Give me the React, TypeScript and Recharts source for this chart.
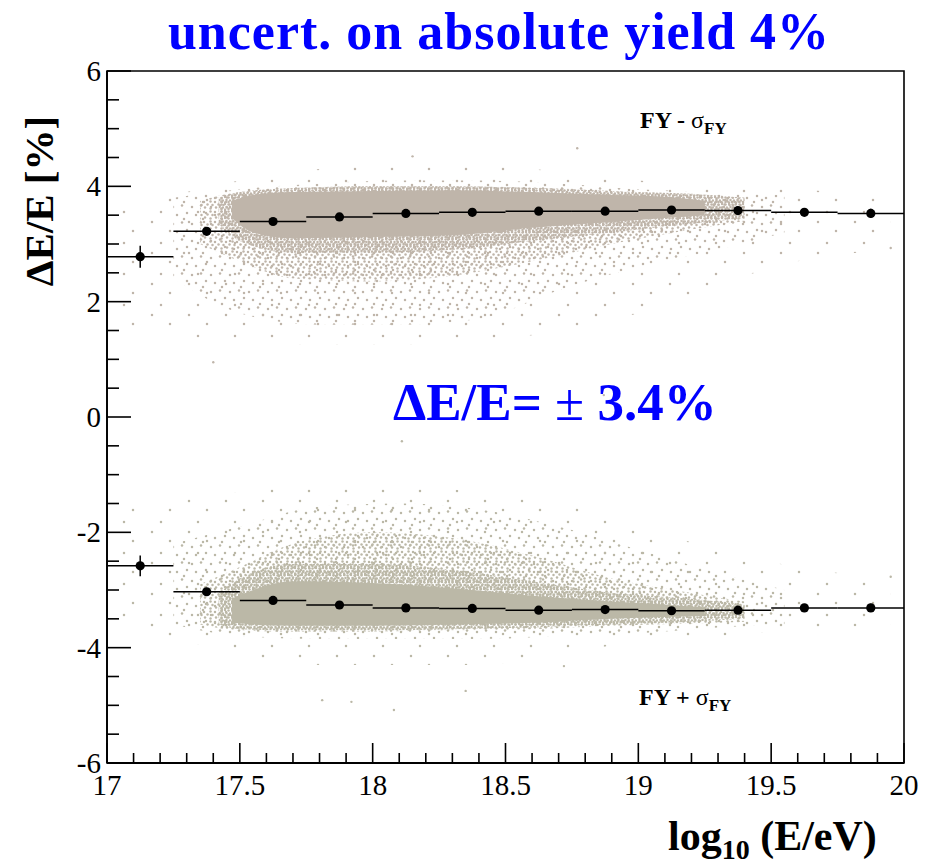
import React from "react";
import {
  ComposedChart,
  Area,
  Scatter,
  ErrorBar,
  XAxis,
  YAxis,
  ReferenceArea,
} from "recharts";

const SERIF = "'Liberation Serif', 'DejaVu Serif', serif";
const UP_COLOR = "#bfb5aa";
const LO_COLOR = "#bbb8a7";

// bins in log10(E/eV), width 0.25
const binCentres = [
  17.125, 17.375, 17.625, 17.875, 18.125, 18.375, 18.625, 18.875, 19.125,
  19.375, 19.625, 19.875,
];
const binHalfWidth = 0.125;

// FY - sigma_FY profile (upper)
const meanMinus = [2.78, 3.22, 3.39, 3.47, 3.53, 3.55, 3.57, 3.57, 3.59, 3.58, 3.55, 3.53];
const errMinus = [0.19, 0.05, 0.03, 0.02, 0.02, 0.02, 0.02, 0.02, 0.03, 0.04, 0.05, 0.08];

// FY + sigma_FY profile (lower)
const meanPlus = [-2.58, -3.03, -3.18, -3.26, -3.31, -3.32, -3.35, -3.34, -3.36, -3.35, -3.31, -3.31];
const errPlus = [0.18, 0.05, 0.03, 0.02, 0.02, 0.02, 0.02, 0.02, 0.03, 0.04, 0.05, 0.07];

// scatter cloud envelopes: [log10E, low, high]
const upSparse = [
  [17.05, 1.6, 3.6], [17.3, 1.4, 3.9], [17.5, 1.3, 4.1], [17.8, 1.25, 4.3],
  [18.1, 1.25, 4.4], [18.4, 1.3, 4.4], [18.7, 1.5, 4.25], [19.0, 1.8, 4.1],
  [19.3, 2.3, 4.0], [19.6, 2.7, 3.95], [19.95, 2.9, 3.8],
];
const upLight = [
  [17.25, 2.4, 3.8], [17.5, 1.8, 3.95], [17.8, 1.6, 4.05], [18.1, 1.6, 4.1],
  [18.4, 1.7, 4.1], [18.7, 2.2, 4.05], [19.0, 2.6, 3.95], [19.3, 2.9, 3.9],
  [19.55, 3.2, 3.85],
];
const upMid = [
  [17.35, 3.0, 3.75], [17.5, 2.7, 3.9], [17.7, 2.4, 3.95], [18.0, 2.35, 4.0],
  [18.3, 2.45, 4.0], [18.6, 2.7, 3.98], [18.9, 3.0, 3.92], [19.2, 3.25, 3.85],
  [19.4, 3.4, 3.8],
];
const upDense = [
  [17.42, 3.35, 3.8], [17.5, 3.05, 3.9], [17.7, 2.85, 3.97], [18.0, 2.85, 4.0],
  [18.3, 2.9, 4.0], [18.6, 3.05, 3.97], [18.9, 3.2, 3.92], [19.2, 3.35, 3.87],
  [19.4, 3.45, 3.8],
];
const upCore = [
  [17.47, 3.45, 3.75], [17.55, 3.2, 3.85], [17.7, 3.1, 3.9], [18.0, 3.12, 3.92],
  [18.3, 3.15, 3.93], [18.6, 3.28, 3.9], [18.9, 3.38, 3.85], [19.1, 3.45, 3.82],
  [19.25, 3.5, 3.75],
];

const loSparse = [
  [17.05, -3.6, -1.6], [17.3, -3.9, -1.4], [17.5, -4.1, -1.3], [17.8, -4.3, -1.15],
  [18.1, -4.3, -1.2], [18.4, -4.3, -1.3], [18.7, -4.1, -1.5], [19.0, -3.9, -1.9],
  [19.3, -3.8, -2.3], [19.6, -3.7, -2.6], [19.95, -3.6, -2.8],
];
const loLight = [
  [17.25, -3.6, -2.2], [17.5, -3.8, -1.9], [17.8, -3.85, -1.55], [18.1, -3.85, -1.5],
  [18.4, -3.85, -1.6], [18.7, -3.8, -1.9], [19.0, -3.75, -2.3], [19.3, -3.65, -2.7],
  [19.55, -3.6, -3.0],
];
const loMid = [
  [17.35, -3.6, -2.9], [17.5, -3.7, -2.6], [17.7, -3.72, -2.2], [18.0, -3.72, -2.0],
  [18.3, -3.7, -2.1], [18.6, -3.68, -2.4], [18.9, -3.62, -2.8], [19.2, -3.58, -3.05],
  [19.4, -3.55, -3.2],
];
const loDense = [
  [17.42, -3.6, -3.05], [17.5, -3.68, -2.8], [17.7, -3.7, -2.55], [18.0, -3.7, -2.55],
  [18.3, -3.68, -2.65], [18.6, -3.65, -2.85], [18.9, -3.6, -3.05], [19.2, -3.55, -3.15],
  [19.4, -3.5, -3.25],
];
const loCore = [
  [17.47, -3.55, -3.15], [17.55, -3.6, -3.0], [17.7, -3.62, -2.85], [18.0, -3.62, -2.88],
  [18.3, -3.6, -2.97], [18.6, -3.57, -3.1], [18.9, -3.5, -3.2], [19.1, -3.47, -3.25],
  [19.25, -3.45, -3.3],
];

// isolated outlier dots
const upOutliers = [
  [18.15, 4.52], [18.77, 4.66], [19.95, 2.93], [18.87, 0.38], [17.4, 0.95],
];
const loOutliers = [
  [18.08, -5.08], [17.81, -4.91], [17.92, -4.94], [18.72, -4.32], [19.95, -2.77],
  [18.11, -0.42], [18.35, -4.75],
];

const Y_MAJOR = [-6, -4, -2, 0, 2, 4, 6];
const X_MAJOR = [17, 17.5, 18, 18.5, 19, 19.5, 20];
const Y_TICKS = Array.from({ length: 25 }, (_, i) => -6 + i * 0.5);
const X_TICKS = Array.from({ length: 31 }, (_, i) => Math.round((17 + i * 0.1) * 10) / 10);

const toBand = (rows: number[][]) => rows.map(([x, lo, hi]) => ({ x, r: [lo, hi] }));
const toPts = (rows: number[][]) => rows.map(([x, y]) => ({ x, y }));
const profile = (means: number[], errs: number[]) =>
  binCentres.map((x, i) => ({ x, y: means[i], xerr: binHalfWidth, yerr: errs[i] }));

const upperProfile = profile(meanMinus, errMinus);
const lowerProfile = profile(meanPlus, errPlus);

function YTick(props: any) {
  const { x, y, payload } = props;
  const v = payload.value;
  const major = Y_MAJOR.includes(v);
  return (
    <g>
      <line x1={x} x2={x + (major ? 24 : 12)} y1={y} y2={y} stroke="#000" strokeWidth={1.6} />
      {major && (
        <text x={x - 6} y={y} dy="0.35em" textAnchor="end" fontSize={29} fontFamily={SERIF} fill="#000">
          {v}
        </text>
      )}
    </g>
  );
}

function XTick(props: any) {
  const { x, y, payload } = props;
  const v = payload.value;
  const major = X_MAJOR.includes(v);
  return (
    <g>
      <line x1={x} x2={x} y1={y} y2={y - (major ? 20 : 10)} stroke="#000" strokeWidth={1.6} />
      {major && (
        <text x={x} y={y + 32} textAnchor="middle" fontSize={29} fontFamily={SERIF} fill="#000">
          {v}
        </text>
      )}
    </g>
  );
}

const ProfileDot = (p: any) => <circle cx={p.cx} cy={p.cy} r={4.6} fill="#000" />;
const UpDot = (p: any) => <circle cx={p.cx} cy={p.cy} r={1.2} fill={UP_COLOR} />;
const LoDot = (p: any) => <circle cx={p.cx} cy={p.cy} r={1.2} fill={LO_COLOR} />;

// dot textures standing in for the individual events
const TEX_SPARSE = [[4, 5], [22, 14], [13, 26]];
const TEX_LIGHT = [[2, 3], [11, 1.5], [16, 9], [6, 11], [13, 15]];
const TEX_MID = [[1.5, 1.5], [6, 2], [9.5, 4.5], [3.5, 5], [7, 7.5], [1.5, 8.5]];
const TEX_DENSE = [[1, 1], [4.5, 1.5], [2.5, 4], [6, 4.5], [1, 6.5], [4.5, 6]];

function Patterns() {
  const pat = (id: string, w: number, h: number, dots: number[][], color: string) => (
    <pattern id={id} width={w} height={h} patternUnits="userSpaceOnUse">
      {dots.map(([cx, cy], i) => (
        <circle key={i} cx={cx} cy={cy} r={1.25} fill={color} />
      ))}
    </pattern>
  );
  return (
    <svg width={0} height={0} style={{ position: "absolute" }}>
      <defs>
        {pat("upS", 37, 31, TEX_SPARSE, UP_COLOR)}
        {pat("upL", 19, 17, TEX_LIGHT, UP_COLOR)}
        {pat("upM", 11, 10, TEX_MID, UP_COLOR)}
        {pat("upD", 7, 7, TEX_DENSE, UP_COLOR)}
        {pat("loS", 37, 31, TEX_SPARSE, LO_COLOR)}
        {pat("loL", 19, 17, TEX_LIGHT, LO_COLOR)}
        {pat("loM", 11, 10, TEX_MID, LO_COLOR)}
        {pat("loD", 7, 7, TEX_DENSE, LO_COLOR)}
      </defs>
    </svg>
  );
}

const bandProps = {
  dataKey: "r",
  type: "monotone" as const,
  stroke: "none",
  dot: false,
  activeDot: false,
  isAnimationActive: false,
  fillOpacity: 1,
};

export default function App() {
  return (
    <div style={{ position: "absolute", left: 0, top: 0, width: 939, height: 864, background: "#fff" }}>
      <Patterns />
      <ComposedChart width={939} height={864} margin={{ top: 71, right: 35, bottom: 61, left: 47 }}>
        <XAxis
          type="number"
          dataKey="x"
          domain={[17, 20]}
          ticks={X_TICKS}
          interval={0}
          tickSize={0}
          tickMargin={0}
          tickLine={false}
          tick={XTick}
          axisLine={{ stroke: "#000", strokeWidth: 1.8 }}
          height={40}
          allowDataOverflow
        />
        <YAxis
          type="number"
          dataKey="y"
          domain={[-6, 6]}
          ticks={Y_TICKS}
          interval={0}
          tickSize={0}
          tickMargin={0}
          tickLine={false}
          tick={YTick}
          axisLine={{ stroke: "#000", strokeWidth: 1.8 }}
          width={60}
          allowDataOverflow
        />
        <Area {...bandProps} data={toBand(upSparse)} fill="url(#upS)" />
        <Area {...bandProps} data={toBand(upLight)} fill="url(#upL)" />
        <Area {...bandProps} data={toBand(upMid)} fill="url(#upM)" />
        <Area {...bandProps} data={toBand(upDense)} fill="url(#upD)" />
        <Area {...bandProps} data={toBand(upCore)} fill={UP_COLOR} />
        <Area {...bandProps} data={toBand(loSparse)} fill="url(#loS)" />
        <Area {...bandProps} data={toBand(loLight)} fill="url(#loL)" />
        <Area {...bandProps} data={toBand(loMid)} fill="url(#loM)" />
        <Area {...bandProps} data={toBand(loDense)} fill="url(#loD)" />
        <Area {...bandProps} data={toBand(loCore)} fill={LO_COLOR} />
        <Scatter data={toPts(upOutliers)} dataKey="y" shape={UpDot} isAnimationActive={false} />
        <Scatter data={toPts(loOutliers)} dataKey="y" shape={LoDot} isAnimationActive={false} />
        <Scatter data={upperProfile} dataKey="y" shape={ProfileDot} isAnimationActive={false}>
          <ErrorBar dataKey="xerr" direction="x" width={0} stroke="#000" strokeWidth={1.5} />
          <ErrorBar dataKey="yerr" direction="y" width={0} stroke="#000" strokeWidth={1.5} />
        </Scatter>
        <Scatter data={lowerProfile} dataKey="y" shape={ProfileDot} isAnimationActive={false}>
          <ErrorBar dataKey="xerr" direction="x" width={0} stroke="#000" strokeWidth={1.5} />
          <ErrorBar dataKey="yerr" direction="y" width={0} stroke="#000" strokeWidth={1.5} />
        </Scatter>
        <ReferenceArea x1={17} x2={20} y1={-6} y2={6} fill="none" stroke="#000" strokeWidth={1.6} ifOverflow="visible" />
      </ComposedChart>
      <svg width={939} height={864} style={{ position: "absolute", left: 0, top: 0, pointerEvents: "none" }}>
        <text x={499} y={49} textAnchor="middle" fontSize={52} letterSpacing={1} fontWeight="bold" fontFamily={SERIF} fill="#0000ff">
          uncert. on absolute yield 4%
        </text>
        <text transform="translate(53,201) rotate(-90)" textAnchor="middle" fontSize={41} fontWeight="bold" fontFamily={SERIF} fill="#000">
          ΔE/E [%]
        </text>
        <text x={668} y={850} fontSize={42} fontWeight="bold" fontFamily={SERIF} fill="#000">
          log<tspan fontSize={28} dy={9}>10</tspan>
          <tspan dy={-9}> (E/eV)</tspan>
        </text>
        <text x={393} y={420} fontSize={53} fontWeight="bold" fontFamily={SERIF} fill="#0000ff">
          ΔE/E= <tspan fontWeight="normal">±</tspan> 3.4%
        </text>
        <text x={640} y={128} fontSize={24} fontWeight="bold" fontFamily={SERIF} fill="#000">
          FY - <tspan fontWeight="normal">σ</tspan>
          <tspan fontSize={17} dy={6}>FY</tspan>
        </text>
        <text x={639} y={705} fontSize={24} fontWeight="bold" fontFamily={SERIF} fill="#000">
          FY + <tspan fontWeight="normal">σ</tspan>
          <tspan fontSize={17} dy={6}>FY</tspan>
        </text>
      </svg>
    </div>
  );
}
